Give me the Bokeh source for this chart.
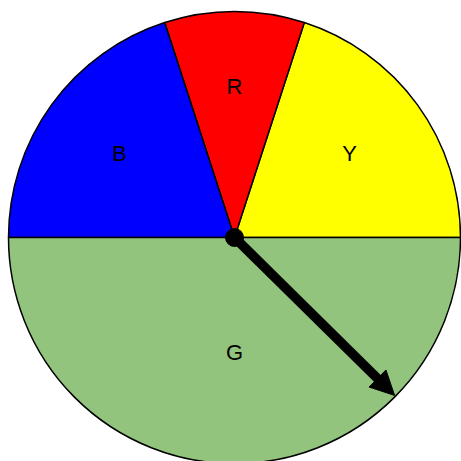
import math
from bokeh.plotting import figure
from bokeh.models import Arrow, NormalHead, ColumnDataSource, Range1d
from bokeh.core.properties import value
from bokeh.embed import file_html
from bokeh.resources import INLINE

# data
labels = ["Y", "R", "B", "G"]
shares = [20, 10, 20, 50]          # percent of the spinner
colors = ["#FFFF00", "#FF0000", "#0000FF", "#93C47D"]
pointer_angle_deg = -44.6          # direction of the spinner arrow

R = 226.0
W = H = 461
cx_px, cy_px = 234, 237  # centre position within the figure (pixels)

p = figure(width=W, height=H, output_backend="svg", toolbar_location=None,
           x_range=Range1d(-cx_px, W - cx_px), y_range=Range1d(cy_px - H, cy_px),
           min_border=0, match_aspect=False)
p.axis.visible = False
p.grid.visible = False
p.outline_line_color = None
p.background_fill_color = "white"

total = sum(shares)
starts, ends, lx, ly = [], [], [], []
acc = 0.0
for s in shares:
    a0 = acc / total * 2 * math.pi
    acc += s
    a1 = acc / total * 2 * math.pi
    starts.append(a0)
    ends.append(a1)
    mid = (a0 + a1) / 2
    frac = 0.71 - 0.4 * s / total
    lx.append(R * frac * math.cos(mid))
    ly.append(R * frac * math.sin(mid))

src = ColumnDataSource(dict(start=starts, end=ends, color=colors, label=labels, lx=lx, ly=ly))
p.wedge(x=0, y=0, radius=R, start_angle="start", end_angle="end", fill_color="color",
        line_color="black", line_width=1.5, source=src)

p.text(x="lx", y="ly", text="label", source=src, text_align="center", text_baseline="middle",
       text_font=value("Liberation Sans"), text_font_size="22px", text_color="black")

ang = math.radians(pointer_angle_deg)
tip = R * 0.995
p.add_layout(Arrow(x_start=0, y_start=0, x_end=tip * math.cos(ang), y_end=tip * math.sin(ang),
                   line_width=9.5, line_color="black",
                   end=NormalHead(size=24, fill_color="black", line_color="black", line_width=1)))
p.scatter(x=[0], y=[0], size=18, marker="circle", fill_color="black", line_color="black")

open("out.html", "w").write(file_html(p, INLINE))
